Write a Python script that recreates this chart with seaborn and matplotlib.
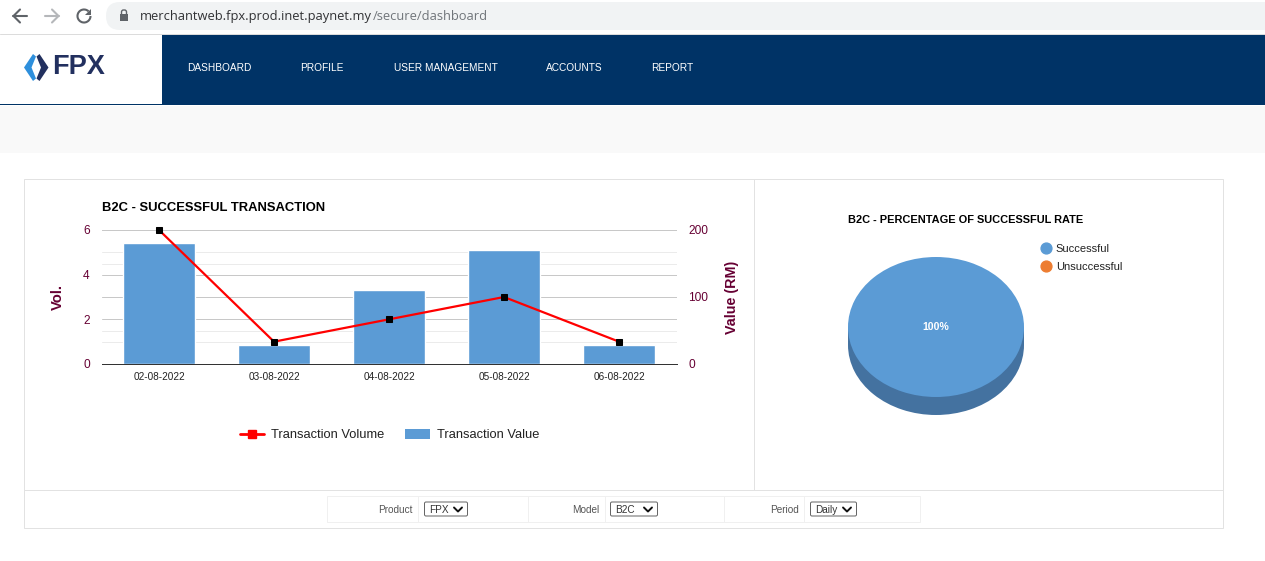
import matplotlib
matplotlib.use('Agg')
import matplotlib.pyplot as plt
from matplotlib.lines import Line2D
from matplotlib.patches import Arc, FancyBboxPatch, Patch, Polygon, Rectangle
import seaborn as sns

W, H = 1265, 561

# Chart data
dates = ['02-08-2022', '03-08-2022', '04-08-2022', '05-08-2022', '06-08-2022']
txn_volume = [6, 1, 2, 3, 1]
txn_value = [180, 29, 110, 170, 29]
vol_ticks = [0, 2, 4, 6]
vol_minor = [1, 3, 5]
value_ticks = [0, 100, 200]
value_minor = [50, 150]
VOL_MAX = 6
VALUE_MAX = 200

pie_labels = ['Successful', 'Unsuccessful']
pie_values = [100, 0]

nav_items = ['DASHBOARD', 'PROFILE', 'USER MANAGEMENT', 'ACCOUNTS', 'REPORT']
nav_x = [187.3, 300.3, 393.7, 545.5, 651.5]
filter_labels = ['Product', 'Model', 'Period']
filter_values = ['FPX', 'B2C', 'Daily']

# Colours
BLUE = '#5b9bd5'
DARK_BLUE = '#4472a0'
ORANGE = '#ed7d31'
NAVY = '#003366'
MAROON = '#660033'
FONT = 'Liberation Sans'
PX = 0.72  # one pixel as a line width at dpi 100


def px_axes(fig, x0, y0, x1, y1):
    # axes from pixel box, y measured from the top
    return fig.add_axes([x0 / W, 1 - y1 / H, (x1 - x0) / W, (y1 - y0) / H])


def draw_browser_bar(ax):
    ax.add_patch(FancyBboxPatch((106, 2), 1190, 28, boxstyle='round,pad=0,rounding_size=14',
                                fc='#f1f3f4', ec='none'))
    ax.plot([0, W], [33.9, 33.9], color='#dcdcdc', lw=PX)

    for pts, col in [(((13, 16), (27, 16)), '#5f6368'), (((20, 9.5), (13.5, 16), (20, 22.5)), '#5f6368'),
                     (((45, 16), (59, 16)), '#b5b7ba'), (((52, 9.5), (58.5, 16), (52, 22.5)), '#b5b7ba')]:
        ax.plot(*zip(*pts), color=col, lw=1.5)
    ax.add_patch(Arc((84, 16), 13, 13, theta1=0, theta2=315, color='#5f6368', lw=1.5))
    ax.add_patch(Polygon([(91, 9), (91, 15), (85, 15)], fc='#5f6368', ec='none'))

    ax.add_patch(Rectangle((120, 14), 8, 7, fc='#5f6368', ec='none'))
    ax.add_patch(FancyBboxPatch((121.5, 10), 5, 6, boxstyle='round,pad=0,rounding_size=2',
                                fc='none', ec='#5f6368', lw=1))
    ax.text(140, 16, 'merchantweb.fpx.prod.inet.paynet.my', color='#303134', fontsize=9.3,
            va='center', family='Open Sans')
    ax.text(373, 16, '/secure/dashboard', color='#70757a', fontsize=9.3,
            va='center', family='Open Sans')


def draw_page(fig):
    ax = fig.add_axes([0, 0, 1, 1], zorder=-5)
    ax.set_xlim(0, W)
    ax.set_ylim(H, 0)
    ax.axis('off')

    draw_browser_bar(ax)

    # header
    ax.add_patch(Rectangle((162, 35), W - 162, 70, fc=NAVY, ec='none'))
    ax.add_patch(Rectangle((0, 103.5), W, 1.5, fc=NAVY, ec='none'))
    ax.add_patch(Polygon([(33, 54), (36, 56.5), (31.5, 67.5), (36, 78.5), (33, 81), (24, 67.5)],
                         fc='#2e8fdc', ec='none'))
    ax.add_patch(Polygon([(39.5, 54), (36.5, 56.5), (41, 67.5), (36.5, 78.5), (39.5, 81), (48.5, 67.5)],
                         fc='#22305f', ec='none'))
    ax.text(52, 67, 'FPX', color='#22305f', fontsize=19.5, fontweight='bold', va='center', family=FONT)
    for label, x in zip(nav_items, nav_x):
        ax.text(x, 67.5, label, color='white', fontsize=7.3, va='center', family=FONT)

    # grey strip and panel borders
    ax.add_patch(Rectangle((0, 106), W, 47, fc='#f9f9f9', ec='none'))
    ax.add_patch(Rectangle((24, 179), 1199, 349, fc='none', ec='#e2e2e2', lw=PX))
    ax.plot([754, 754], [179, 490], color='#e2e2e2', lw=PX)
    ax.plot([24, 1223], [490, 490], color='#e2e2e2', lw=PX)

    # filter row
    ax.add_patch(Rectangle((327, 496), 593, 26, fc='none', ec='#f0f0f0', lw=PX))
    for x in [418, 528, 605, 724, 804]:
        ax.plot([x, x], [496, 522], color='#f0f0f0', lw=PX)
    label_right = [413, 599, 799]
    box_x = [(424, 468), (610, 658), (810, 857)]
    for name, val, rx, (b0, b1) in zip(filter_labels, filter_values, label_right, box_x):
        ax.text(rx, 510, name, color='#555555', fontsize=7.2, ha='right', va='center', family=FONT)
        ax.add_patch(FancyBboxPatch((b0 + 0.5, 502), b1 - b0 - 1, 14, boxstyle='round,pad=0,rounding_size=1.5',
                                    fc='white', ec='#666666', lw=PX))
        ax.text(b0 + 5, 510, val, color='#333333', fontsize=7.2, va='center', family=FONT)
        ax.plot([b1 - 14, b1 - 10, b1 - 6], [507.5, 511.5, 507.5], color='#111111', lw=1.4)

    # chart titles
    ax.text(102, 207.5, 'B2C - SUCCESSFUL TRANSACTION', color='black', fontsize=9.4,
            fontweight='bold', va='center', family=FONT)
    ax.text(848, 220, 'B2C - PERCENTAGE OF SUCCESSFUL RATE', color='black', fontsize=7.93,
            fontweight='bold', va='center', family=FONT)
    return ax


def draw_combo(fig):
    ax_val = px_axes(fig, 101.5, 230, 676.5, 364)
    ax_val.patch.set_alpha(0)
    ax_vol = ax_val.twinx()

    sns.barplot(x=dates, y=txn_value, color=BLUE, saturation=1, width=0.62, ax=ax_val)
    sns.lineplot(x=dates, y=txn_volume, color='red', linewidth=1.6, marker='s', markersize=5,
                 markerfacecolor='black', markeredgecolor='black', clip_on=False, legend=False, ax=ax_vol)

    ax_val.set_xlim(-0.5, 4.5)
    ax_val.set_ylim(0, VALUE_MAX)
    ax_vol.set_ylim(0, VOL_MAX)

    # both axes share the same horizontal rules, kept behind the bars
    scale = VALUE_MAX / VOL_MAX
    for v in vol_minor:
        ax_val.axhline(v * scale, color='#ebebeb', lw=PX, zorder=0.5)
    for v in value_minor:
        ax_val.axhline(v, color='#ebebeb', lw=PX, zorder=0.5)
    for v in vol_ticks[1:]:
        ax_val.axhline(v * scale, color='#c8c8c8', lw=PX, zorder=0.6)
    for v in value_ticks[1:]:
        ax_val.axhline(v, color='#c8c8c8', lw=PX, zorder=0.6)

    ax_vol.yaxis.tick_left()
    ax_vol.yaxis.set_label_position('left')
    ax_val.yaxis.tick_right()
    ax_val.yaxis.set_label_position('right')
    ax_vol.set_yticks(vol_ticks)
    ax_val.set_yticks(value_ticks)

    for a in (ax_val, ax_vol):
        a.grid(False)
        for side in ['top', 'left', 'right']:
            a.spines[side].set_visible(False)
    ax_val.spines['bottom'].set_color('#333333')
    ax_val.spines['bottom'].set_linewidth(PX)
    ax_vol.spines['bottom'].set_visible(False)

    ax_val.tick_params(axis='x', length=0, pad=6, labelsize=7.2, labelcolor='#222222')
    ax_vol.tick_params(axis='x', length=0, labelbottom=False)
    ax_val.tick_params(axis='y', length=0, pad=8.4, labelsize=8.6, labelcolor=MAROON)
    ax_vol.tick_params(axis='y', length=0, pad=8.4, labelsize=8.6, labelcolor=MAROON)
    for lbl in ax_val.get_xticklabels() + ax_val.get_yticklabels() + ax_vol.get_yticklabels():
        lbl.set_family(FONT)

    ax_vol.set_ylabel('Vol.', color=MAROON, fontsize=10.6, fontweight='bold', family=FONT, labelpad=13.3)
    ax_val.set_ylabel('Value (RM)', color=MAROON, fontsize=10.3, fontweight='bold', family=FONT, labelpad=12.4)
    ax_val.set_xlabel('')

    handles = [
        Line2D([], [], color='red', lw=2, marker='s', markersize=6),
        Patch(fc=BLUE, ec='none'),
    ]
    fig.legend(handles, ['Transaction Volume', 'Transaction Value'], loc='center',
               bbox_to_anchor=(389.5 / W, 1 - 435 / H), ncols=2, frameon=False,
               labelcolor='#222222', handlelength=1.9, handleheight=0.9, handletextpad=0.55,
               columnspacing=1.6, prop={'family': FONT, 'size': 9.25})


def draw_pie(fig):
    # box is padded by 2 px so the ellipse edge is not clipped
    ax = px_axes(fig, 846, 255, 1026, 417)
    ax.pie([1], colors=[DARK_BLUE], center=(0, -18 / 70), radius=1, wedgeprops={'linewidth': 0})
    ax.add_patch(Rectangle((-1, -18 / 70), 2, 18 / 70, fc=DARK_BLUE, ec='none'))
    wedges, texts, pcts = ax.pie(pie_values, colors=[BLUE, ORANGE], startangle=90, radius=1,
                                 wedgeprops={'linewidth': 0}, pctdistance=0,
                                 autopct=lambda p: f'{p:.0f}%' if p > 0 else '')
    for t in pcts:
        t.set(color='white', fontsize=7.6, fontweight='bold', family=FONT)
    ax.set_aspect('auto')
    ax.set_xlim(-1 - 2 / 88, 1 + 2 / 88)
    ax.set_ylim(-1 - 20 / 70, 1 + 2 / 70)

    handles = [Line2D([], [], ls='none', marker='o', markersize=7.8, color=c) for c in [BLUE, ORANGE]]
    fig.legend(handles, pie_labels, loc='upper left', bbox_to_anchor=(1037 / W, 1 - 244 / H),
               frameon=False, borderpad=0, borderaxespad=0, labelspacing=0.71, handletextpad=0.1,
               handlelength=1.6, labelcolor='#222222', prop={'family': FONT, 'size': 8})


def main():
    sns.set_theme(style='white')
    plt.rcParams['font.family'] = [FONT, 'DejaVu Sans']

    fig = plt.figure(figsize=(W / 100, H / 100), dpi=100, facecolor='white')
    draw_page(fig)
    draw_combo(fig)
    draw_pie(fig)
    fig.savefig('out.png', dpi=100)


if __name__ == '__main__':
    main()
